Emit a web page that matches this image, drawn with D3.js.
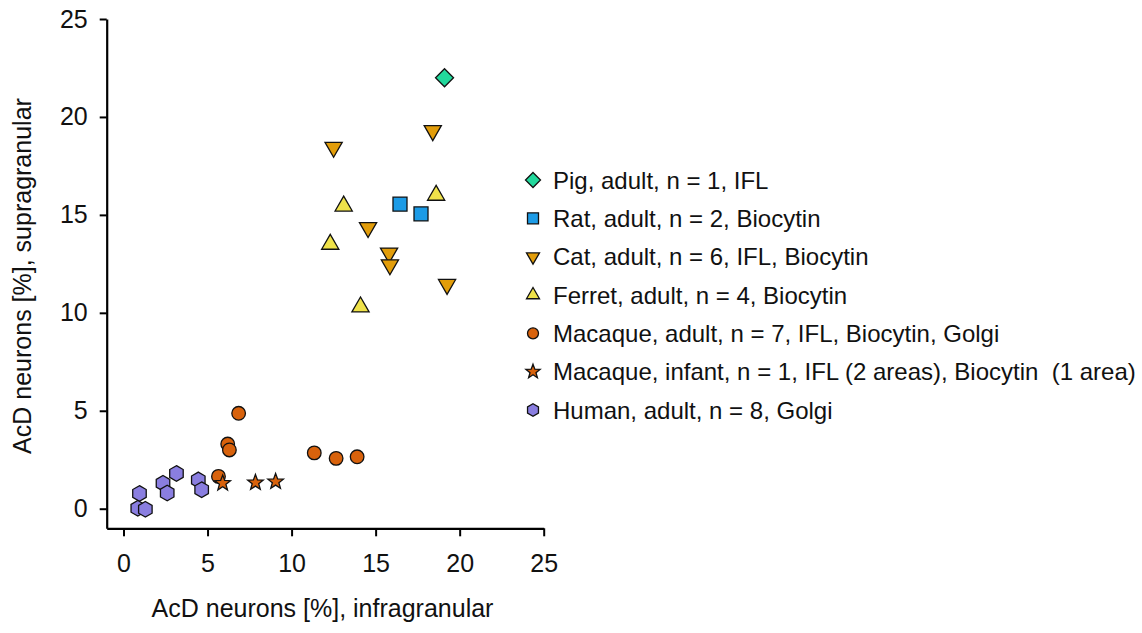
<!DOCTYPE html>
<html>
<head>
<meta charset="utf-8">
<script src="https://cdn.jsdelivr.net/npm/d3@7"></script>
<style>
  html, body { margin: 0; padding: 0; background: #fff; }
  svg { display: block; font-family: "Liberation Sans", Arial, sans-serif; }
  .legend text { white-space: pre; }
</style>
</head>
<body>
<svg id="chart" width="1142" height="633"></svg>
<script>
// Infragranular (x) vs supragranular (y) share of AcD neurons, per species
const pigX = [19.1], pigY = [22.0];
const ratX = [16.45, 17.7], ratY = [15.55, 15.05];
const catX = [18.4, 12.5, 14.55, 15.8, 15.85, 19.25];
const catY = [19.3, 18.45, 14.35, 13.05, 12.45, 11.45];
const ferretX = [18.6, 13.1, 12.3, 14.1];
const ferretY = [16.0, 15.45, 13.5, 10.3];
const macAdultX = [6.85, 6.2, 6.3, 11.35, 12.65, 13.9, 5.65];
const macAdultY = [4.87, 3.3, 3.0, 2.85, 2.57, 2.65, 1.65];
const macInfantX = [5.9, 7.85, 9.05];
const macInfantY = [1.3, 1.33, 1.38];
const humanX = [0.95, 0.85, 1.3, 2.35, 2.6, 3.15, 4.45, 4.65];
const humanY = [0.78, 0.02, -0.03, 1.3, 0.8, 1.8, 1.47, 0.97];

const xTicks = [0, 5, 10, 15, 20, 25];
const yTicks = [0, 5, 10, 15, 20, 25];
const xTitle = "AcD neurons [%], infragranular";
const yTitle = "AcD neurons [%], supragranular";

const legendLabels = [
  "Pig, adult, n = 1, IFL",
  "Rat, adult, n = 2, Biocytin",
  "Cat, adult, n = 6, IFL, Biocytin",
  "Ferret, adult, n = 4, Biocytin",
  "Macaque, adult, n = 7, IFL, Biocytin, Golgi",
  "Macaque, infant, n = 1, IFL (2 areas), Biocytin  (1 area)",
  "Human, adult, n = 8, Golgi"
];

// Marker shapes, sized by radius r (the symbol "size" argument is used as r here)
const shapes = {
  diamond: { draw(ctx, r) { ctx.moveTo(0, -r); ctx.lineTo(r, 0); ctx.lineTo(0, r); ctx.lineTo(-r, 0); ctx.closePath(); } },
  square: { draw(ctx, r) { ctx.rect(-r, -r, 2 * r, 2 * r); } },
  triDown: { draw(ctx, r) {
    const h = r * Math.sqrt(3);
    ctx.moveTo(-r, -h / 3); ctx.lineTo(r, -h / 3); ctx.lineTo(0, 2 * h / 3); ctx.closePath(); } },
  triUp: { draw(ctx, r) {
    const h = r * Math.sqrt(3);
    ctx.moveTo(-r, h / 3); ctx.lineTo(r, h / 3); ctx.lineTo(0, -2 * h / 3); ctx.closePath(); } },
  circle: { draw(ctx, r) { ctx.moveTo(r, 0); ctx.arc(0, 0, r, 0, 2 * Math.PI); } },
  star: { draw(ctx, r) {
    const ri = r * 0.42;
    for (let i = 0; i < 10; i++) {
      const a = -Math.PI / 2 + i * Math.PI / 5;
      const rr = i % 2 === 0 ? r : ri;
      const px = rr * Math.cos(a), py = rr * Math.sin(a);
      if (i === 0) ctx.moveTo(px, py); else ctx.lineTo(px, py);
    }
    ctx.closePath(); } },
  hex: { draw(ctx, r) {
    for (let i = 0; i < 6; i++) {
      const a = -Math.PI / 2 + i * Math.PI / 3;
      const px = r * Math.cos(a), py = r * Math.sin(a);
      if (i === 0) ctx.moveTo(px, py); else ctx.lineTo(px, py);
    }
    ctx.closePath(); } }
};

const series = [
  { xs: pigX, ys: pigY, shape: "diamond", fill: "#22d89c", r: 9, lr: 7.5 },
  { xs: ratX, ys: ratY, shape: "square", fill: "#1c9be6", r: 7, lr: 5.5 },
  { xs: catX, ys: catY, shape: "triDown", fill: "#e29d0a", r: 8.6, lr: 6.5 },
  { xs: ferretX, ys: ferretY, shape: "triUp", fill: "#efe24a", r: 8.6, lr: 6.5 },
  { xs: macAdultX, ys: macAdultY, shape: "circle", fill: "#d8620c", r: 6.8, lr: 5.5 },
  { xs: macInfantX, ys: macInfantY, shape: "star", fill: "#d8620c", r: 8.2, lr: 7.5 },
  { xs: humanX, ys: humanY, shape: "hex", fill: "#8a7ee0", r: 7.8, lr: 6.3 }
];

const svg = d3.select("#chart");

const x = d3.scaleLinear().domain([-1, 25]).range([106.7, 543.7]);
const y = d3.scaleLinear().domain([-1, 25]).range([528.3, 19]);

const xAxis = d3.axisBottom(x).tickValues(xTicks).tickSizeInner(8).tickSizeOuter(0).tickPadding(18);
const yAxis = d3.axisLeft(y).tickValues(yTicks).tickSizeInner(7).tickSizeOuter(0).tickPadding(12);

const gx = svg.append("g").attr("transform", `translate(0,${y(-1)})`).call(xAxis);
const gy = svg.append("g").attr("transform", `translate(${x(-1)},0)`).call(yAxis);

[gx, gy].forEach(g => {
  g.attr("font-size", null).attr("font-family", null);
  g.select(".domain").attr("stroke", "#000").attr("stroke-width", 2.2);
  g.selectAll(".tick line").attr("stroke", "#000").attr("stroke-width", 2);
  g.selectAll(".tick text").attr("fill", "#111").style("font-size", "25px");
});

// Axis titles
svg.append("text")
  .attr("x", 322.5).attr("y", 617)
  .attr("text-anchor", "middle").style("font-size", "25px").attr("fill", "#111")
  .text(xTitle);

svg.append("text")
  .attr("transform", "translate(31,276) rotate(-90)")
  .attr("text-anchor", "middle").style("font-size", "25px").attr("fill", "#111")
  .text(yTitle);

// Data markers
const marks = svg.append("g");
series.forEach(s => {
  const sym = d3.symbol().type(shapes[s.shape]).size(s.r);
  marks.selectAll(null)
    .data(s.xs.map((v, i) => [v, s.ys[i]]))
    .join("path")
    .attr("d", sym)
    .attr("transform", d => `translate(${x(d[0])},${y(d[1])})`)
    .attr("fill", s.fill)
    .attr("stroke", "#111")
    .attr("stroke-width", 1.3);
});

// Legend
const legend = svg.append("g").attr("class", "legend");
const rowY = d3.scaleLinear().domain([0, legendLabels.length - 1]).range([180, 410]);
series.forEach((s, i) => {
  const yy = rowY(i);
  legend.append("path")
    .attr("d", d3.symbol().type(shapes[s.shape]).size(s.lr)())
    .attr("transform", `translate(533,${yy})`)
    .attr("fill", s.fill).attr("stroke", "#111").attr("stroke-width", 1.3);
  legend.append("text")
    .attr("x", 553).attr("y", yy).attr("dy", "0.36em")
    .style("font-size", "24px").attr("fill", "#111")
    .text(legendLabels[i]);
});
</script>
</body>
</html>
